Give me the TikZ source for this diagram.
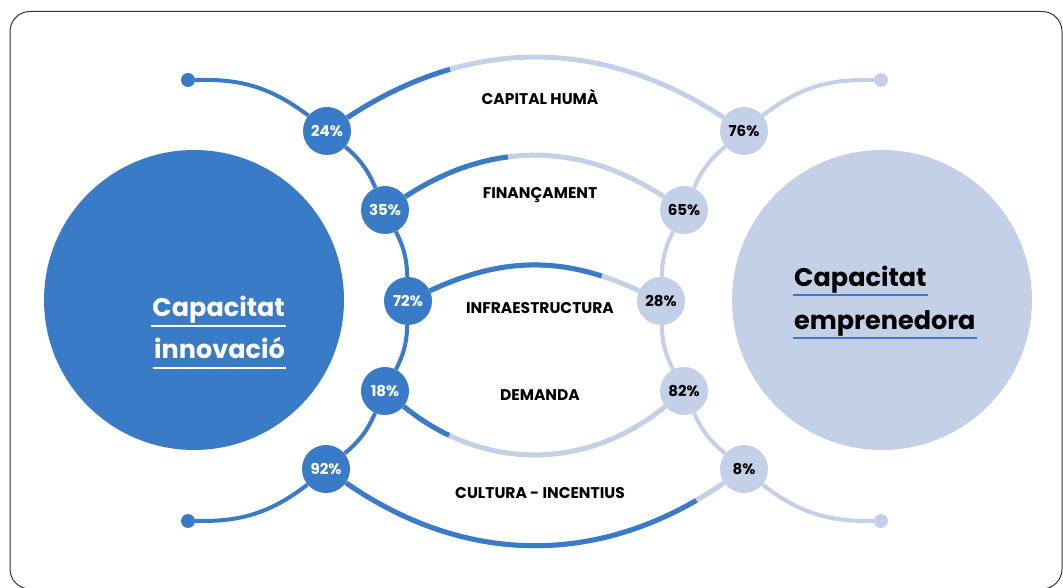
\documentclass[tikz,border=0pt]{standalone}
\usepackage{fontspec}
\setmainfont{Poppins}
\definecolor{inno}{HTML}{3A7BC8}
\definecolor{empr}{HTML}{C4CFE8}

\begin{document}
\begin{tikzpicture}[x=1pt,y=1pt,
  pl/.style={circle,fill=inno,minimum size=48pt,inner sep=0pt,text=white,font=\bfseries\fontsize{15}{15}\selectfont},
  pr/.style={circle,fill=empr,minimum size=48pt,inner sep=0pt,text=black,font=\bfseries\fontsize{15}{15}\selectfont},
  knob/.style={circle,minimum size=14pt,inner sep=0pt},
  lab/.style={font=\bfseries\fontsize{15.5}{15.5}\selectfont},
  big/.style={font=\bfseries\fontsize{25.5}{25.5}\selectfont,inner xsep=1pt,inner ysep=0pt,text depth=9pt},
  link/.style={line width=4pt},
  band/.style={line width=5pt}]
\useasboundingbox (0,0) rectangle (1063,587);
\draw[rounded corners=20pt,line width=1pt,black!80] (10,-2) rectangle (1062,575.5);

% big circles
\node[circle,fill=inno,minimum size=300pt] (ci) at (194,287) {};
\node[circle,fill=empr,minimum size=300pt] (ce) at (882,287) {};

% end points
\node[knob,fill=inno] (lt) at (188,507) {};
\node[knob,fill=inno] (lb) at (188,66) {};
\node[knob,fill=empr] (rt) at (881,507) {};
\node[knob,fill=empr] (rb) at (881,66) {};

% percentages
\node[pl] (l1) at (327,456) {24\%};
\node[pl] (l2) at (385,377) {35\%};
\node[pl] (l3) at (408,286) {72\%};
\node[pl] (l4) at (385,196) {18\%};
\node[pl] (l5) at (326,118) {92\%};
\node[pr] (r1) at (744,456) {76\%};
\node[pr] (r2) at (684,377) {65\%};
\node[pr] (r3) at (661,286) {28\%};
\node[pr] (r4) at (684,196) {82\%};
\node[pr] (r5) at (744,118) {8\%};

% chains
\draw[link,inno] (lt) to[bend left=19.5] (l1);
\draw[link,inno] (l1) to[bend left=13] (l2);
\draw[link,inno] (l2) to[bend left=12.5] (l3);
\draw[link,inno] (l3) to[bend left=12.5] (l4);
\draw[link,inno] (l4) to[bend left=13] (l5);
\draw[link,inno] (l5) to[bend left=19.5] (lb);
\draw[link,empr] (rt) to[bend right=19.5] (r1);
\draw[link,empr] (r1) to[bend right=13] (r2);
\draw[link,empr] (r2) to[bend right=12.5] (r3);
\draw[link,empr] (r3) to[bend right=12.5] (r4);
\draw[link,empr] (r4) to[bend right=13] (r5);
\draw[link,empr] (r5) to[bend right=19.5] (rb);

% bands
\draw[band,empr] (l1) to[bend left=33.4] (r1);
\draw[band,inno,dash pattern=on 114pt off 2000pt] (l1) to[bend left=33.4] (r1);
\draw[band,empr] (l2) to[bend left=33.3] (r2);
\draw[band,inno,dash pattern=on 111pt off 2000pt] (l2) to[bend left=33.3] (r2);
\draw[band,empr] (l3) to[bend left=25] (r3);
\draw[band,inno,dash pattern=on 177pt off 2000pt] (l3) to[bend left=25] (r3);
\draw[band,empr] (l4) to[bend right=39.4] (r4);
\draw[band,inno,dash pattern=on 54pt off 2000pt] (l4) to[bend right=39.4] (r4);
\draw[band,empr] (l5) to[bend right=34.7] (r5);
\draw[band,inno,dash pattern=on 372pt off 2000pt] (l5) to[bend right=34.7] (r5);

% labels
\node[lab] (ch) at (540,490) {CAPITAL HUMÀ};
\node[lab] (fi) at (540,392) {FINANÇAMENT};
\node[lab] (in) at (540,279) {INFRAESTRUCTURA};
\node[lab] (de) at (540,192) {DEMANDA};
\node[lab] (cu) at (540,94) {CULTURA - INCENTIUS};

% titles
\node[big,text=white,anchor=base east] (ti1) at (286,270) {Capacitat};
\node[big,text=white,anchor=base east] (ti2) at (286,228) {innovació};
\draw[white,line width=2pt] (ti1.south west) -- (ti1.south east);
\draw[white,line width=2pt] (ti2.south west) -- (ti2.south east);
\node[big,text=black,anchor=base west,text depth=8pt] (te1) at (793,300) {Capacitat};
\node[big,text=black,anchor=base west,text depth=8pt] (te2) at (793,257) {emprenedora};
\draw[inno,line width=2pt] (te1.south west) -- (te1.south east);
\draw[inno,line width=2pt] (te2.south west) -- (te2.south east);
\end{tikzpicture}
\end{document}
